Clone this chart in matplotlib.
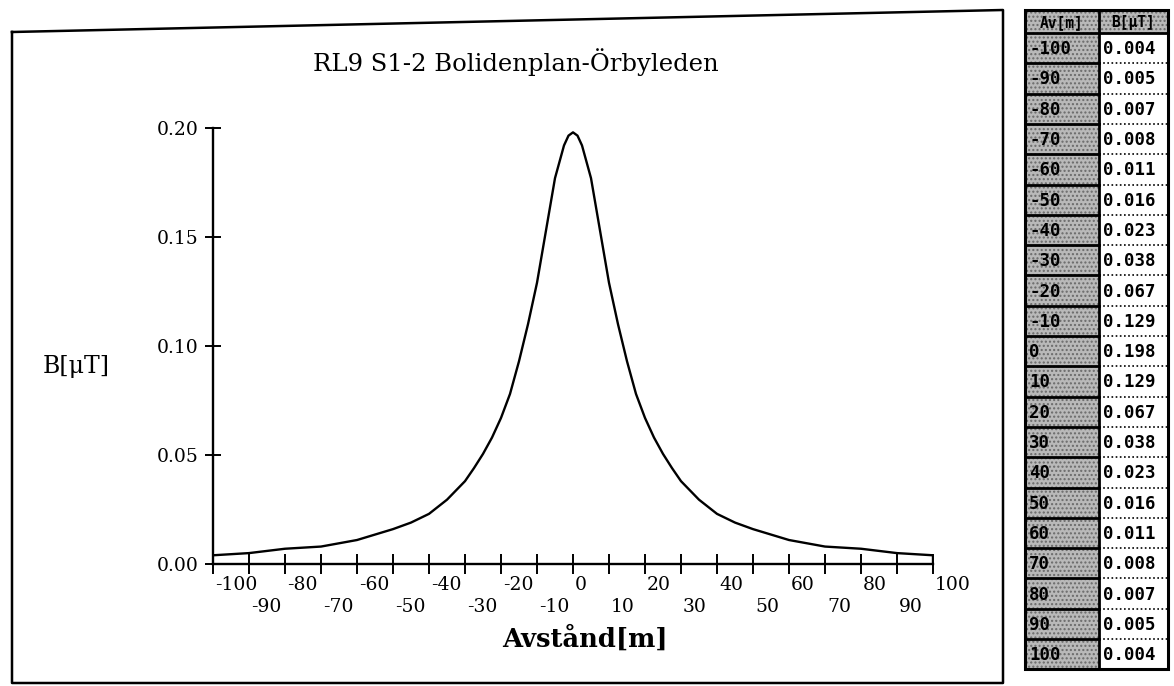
import matplotlib
matplotlib.use("Agg")
import matplotlib.pyplot as plt
from matplotlib.patches import Rectangle
from matplotlib.lines import Line2D

# table printed next to the chart
table_dist = [-100, -90, -80, -70, -60, -50, -40, -30, -20, -10, 0,
              10, 20, 30, 40, 50, 60, 70, 80, 90, 100]
table_b = [0.004, 0.005, 0.007, 0.008, 0.011, 0.016, 0.023, 0.038, 0.067, 0.129, 0.198,
           0.129, 0.067, 0.038, 0.023, 0.016, 0.011, 0.008, 0.007, 0.005, 0.004]

# curve (denser near the peak)
curve_dist = [-100, -90, -80, -70, -60, -50, -45, -40, -35, -30, -27.5, -25, -22.5, -20,
              -17.5, -15, -12.5, -10, -7.5, -5, -2.5, -1.25, 0, 1.25, 2.5, 5, 7.5, 10,
              12.5, 15, 17.5, 20, 22.5, 25, 27.5, 30, 35, 40, 45, 50, 60, 70, 80, 90, 100]
curve_b = [0.004, 0.005, 0.007, 0.008, 0.011, 0.016, 0.019, 0.023, 0.0295, 0.038, 0.044,
           0.0505, 0.058, 0.067, 0.078, 0.093, 0.110, 0.129, 0.153, 0.177, 0.192, 0.1965,
           0.198, 0.1965, 0.192, 0.177, 0.153, 0.129, 0.110, 0.093, 0.078, 0.067, 0.058,
           0.0505, 0.044, 0.038, 0.0295, 0.023, 0.019, 0.016, 0.011, 0.008, 0.007, 0.005,
           0.004]

x_major = [-100, -80, -60, -40, -20, 0, 20, 40, 60, 80, 100]
x_minor = [-90, -70, -50, -30, -10, 10, 30, 50, 70, 90]
y_ticks = [0.00, 0.05, 0.10, 0.15, 0.20]

TITLE = "RL9 S1-2 Bolidenplan-Örbyleden"
XLABEL = "Avstånd[m]"
YLABEL = "B[μT]"
HEAD = ["Av[m]", "B[μT]"]

W, H = 1174, 686
SERIF = ["DejaVu Serif"]
MONO = ["DejaVu Sans Mono"]

fig = plt.figure(figsize=(W / 100, H / 100), dpi=100)
fig.patch.set_facecolor("white")

# main chart
ax = fig.add_axes([213 / W, 1 - 564 / H, 720 / W, 436 / H])
ax.plot(curve_dist, curve_b, color="black", lw=1.7, zorder=3)
ax.vlines(curve_dist[-1], 0, curve_b[-1], color="black", lw=1.7)
ax.set_xlim(-100, 100)
ax.set_ylim(0, 0.2)
for s in ("top", "right"):
    ax.spines[s].set_visible(False)
for s in ("left", "bottom"):
    ax.spines[s].set_linewidth(1.7)
ax.set_facecolor("none")

ax.set_xticks(x_major + x_minor)
ax.set_xticklabels([])
ax.tick_params(axis="x", direction="inout", length=14, width=1.4)
ax.set_yticks(y_ticks)
ax.set_yticklabels([f"{v:.2f}" for v in y_ticks], family=SERIF, fontsize=13.5)
ax.tick_params(axis="y", direction="inout", length=11, width=1.4, pad=5)

for v in x_major:
    ax.annotate(str(v), xy=(v, 0), xycoords=("data", "axes fraction"),
                xytext=(2, -12), textcoords="offset pixels",
                ha="left", va="top", family=SERIF, fontsize=13.5)
for v in x_minor:
    ax.annotate(str(v), xy=(v, 0), xycoords=("data", "axes fraction"),
                xytext=(2, -34), textcoords="offset pixels",
                ha="left", va="top", family=SERIF, fontsize=13.5)

# overlay in pixel coords for texts, frame and table
ov = fig.add_axes([0, 0, 1, 1])
ov.set_xlim(0, W)
ov.set_ylim(H, 0)
ov.axis("off")
ov.set_facecolor("none")

ov.text(516, 62, TITLE, ha="center", va="center", family=SERIF, fontsize=17.5)
ov.text(76, 366, YLABEL, ha="center", va="center", family=SERIF, fontsize=17)
ov.text(585, 638, XLABEL, ha="center", va="center", family=SERIF, fontsize=18.5,
        fontweight="bold")

# slightly skewed outer frame (scanned page)
ov.add_line(Line2D([12, 1003, 1003, 12, 12], [32, 10, 683, 683, 32],
                   color="black", lw=1.8))

# table
tx0, tx1, tx2 = 1025, 1099, 1168
ty0, th_head, row_h = 10, 23, 30.3
n = len(table_dist)
ty_end = ty0 + th_head + n * row_h
gray = "#b9b9b9"

ov.add_patch(Rectangle((tx0, ty0), tx2 - tx0, th_head, facecolor=gray,
                       hatch="....", edgecolor="#6a6a6a", lw=0))
ov.add_patch(Rectangle((tx0, ty0 + th_head), tx1 - tx0, n * row_h, facecolor=gray,
                       hatch="....", edgecolor="#6a6a6a", lw=0))
ov.add_patch(Rectangle((tx0, ty0), tx2 - tx0, ty_end - ty0, facecolor="none",
                       edgecolor="black", lw=2.2))
ov.add_line(Line2D([tx1, tx1], [ty0, ty_end], color="black", lw=2))
ov.add_line(Line2D([tx0, tx2], [ty0 + th_head] * 2, color="black", lw=2))

ov.text((tx0 + tx1) / 2, ty0 + th_head / 2 + 1, HEAD[0], ha="center", va="center",
        family=MONO, fontweight="bold", fontsize=10.5)
ov.text((tx1 + tx2) / 2, ty0 + th_head / 2 + 1, HEAD[1], ha="center", va="center",
        family=MONO, fontweight="bold", fontsize=10.5)

for i, (d, b) in enumerate(zip(table_dist, table_b)):
    top = ty0 + th_head + i * row_h
    if i > 0:
        ov.add_line(Line2D([tx0, tx1], [top, top], color="black", lw=2))
        ov.add_line(Line2D([tx1, tx2], [top, top], color="black", lw=1.2,
                           linestyle=(0, (1, 1.5))))
    ov.text(tx0 + 4, top + row_h / 2 + 1, str(d), ha="left", va="center",
            family=MONO, fontweight="bold", fontsize=12.5)
    ov.text(tx1 + 4, top + row_h / 2 + 1, f"{b:.3f}", ha="left", va="center",
            family=MONO, fontweight="bold", fontsize=12.5)

fig.savefig("out.png", dpi=100)
